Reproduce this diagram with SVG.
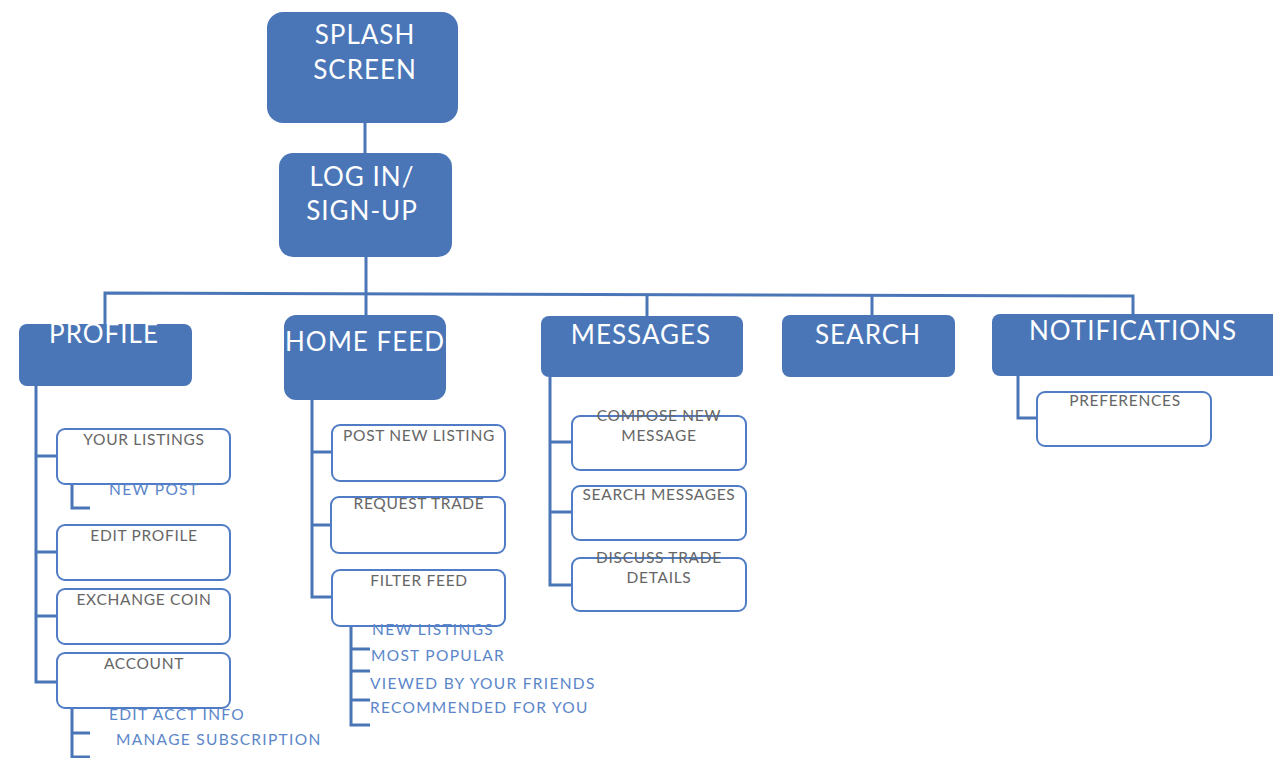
<svg xmlns="http://www.w3.org/2000/svg" width="1273" height="758" viewBox="0 0 1273 758">
<style>
.main{fill:#4a76b8;}
.sub{fill:#fff;stroke:#4f7cc4;stroke-width:2;}
.wt{fill:#fff;font-family:Lato,"Liberation Sans",sans-serif;font-size:26px;letter-spacing:1px;text-anchor:middle;}
.gt{fill:#666;font-family:Lato,"Liberation Sans",sans-serif;font-size:15.5px;letter-spacing:0.7px;text-anchor:middle;}
.bt{fill:#5b86c9;font-family:Lato,"Liberation Sans",sans-serif;font-size:15.5px;letter-spacing:1.3px;}
.ln{fill:none;stroke:#4a76b8;stroke-width:3;}
</style>
<rect width="1273" height="758" fill="#fff"/>
<g id="connectors">
<path class="ln" d="M365 123V153"/>
<path class="ln" d="M366 257V294"/>
<path class="ln" d="M105 324V293L1133 296V314"/>
<path class="ln" d="M366 294V315"/>
<path class="ln" d="M647 295V316"/>
<path class="ln" d="M872 295V315"/>
<path class="ln" d="M36 386V682H57M36 456H57M36 552H57M36 616H57"/>
<path class="ln" d="M72 484V508H90"/>
<path class="ln" d="M72 708V757H90M72 733H90"/>
<path class="ln" d="M312 400V597H332M312 452H332M312 525H332"/>
<path class="ln" d="M351 626V725H370M351 649H370M351 671H370M351 700H370"/>
<path class="ln" d="M550 377V585H572M550 442H572M550 512H572"/>
<path class="ln" d="M1018 376V418H1037"/>
</g>
<g id="splash"><rect class="main" x="267" y="12" width="191" height="111" rx="16"/><text class="wt" x="365" y="44">SPLASH</text><text class="wt" x="365" y="79">SCREEN</text></g>
<g id="login"><rect class="main" x="279" y="153" width="173" height="104" rx="14"/><text class="wt" x="362" y="186">LOG IN/</text><text class="wt" x="362" y="220">SIGN-UP</text></g>
<g id="profile"><rect class="main" x="19" y="324" width="173" height="62" rx="8"/><text class="wt" x="104" y="343">PROFILE</text></g>
<g id="homefeed"><rect class="main" x="284" y="315" width="162" height="85" rx="12"/><text class="wt" x="365" y="351">HOME FEED</text></g>
<g id="messages"><rect class="main" x="541" y="316" width="202" height="61" rx="8"/><text class="wt" x="641" y="344">MESSAGES</text></g>
<g id="search"><rect class="main" x="782" y="315" width="173" height="62" rx="8"/><text class="wt" x="868" y="344">SEARCH</text></g>
<g id="notifications"><rect class="main" x="992" y="314" width="290" height="62" rx="8"/><text class="wt" x="1133" y="340">NOTIFICATIONS</text></g>
<g id="yourlistings"><rect class="sub" x="57" y="429" width="173" height="55" rx="8"/><text class="gt" x="144" y="445">YOUR LISTINGS</text></g>
<g id="newpost"><text class="bt" x="109" y="495">NEW POST</text></g>
<g id="editprofile"><rect class="sub" x="57" y="525" width="173" height="55" rx="8"/><text class="gt" x="144" y="541">EDIT PROFILE</text></g>
<g id="exchangecoin"><rect class="sub" x="57" y="589" width="173" height="55" rx="8"/><text class="gt" x="144" y="605">EXCHANGE COIN</text></g>
<g id="account"><rect class="sub" x="57" y="653" width="173" height="55" rx="8"/><text class="gt" x="144" y="669">ACCOUNT</text></g>
<g id="editacct"><text class="bt" x="109" y="720">EDIT ACCT INFO</text></g>
<g id="managesub"><text class="bt" x="116" y="745">MANAGE SUBSCRIPTION</text></g>
<g id="postnew"><rect class="sub" x="332" y="425" width="173" height="56" rx="8"/><text class="gt" x="419" y="441">POST NEW LISTING</text></g>
<g id="requesttrade"><rect class="sub" x="331" y="497" width="174" height="56" rx="8"/><text class="gt" x="419" y="509">REQUEST TRADE</text></g>
<g id="filterfeed"><rect class="sub" x="332" y="570" width="173" height="56" rx="8"/><text class="gt" x="419" y="586">FILTER FEED</text></g>
<g id="newlistings"><text class="bt" x="372" y="635">NEW LISTINGS</text></g>
<g id="mostpopular"><text class="bt" x="371" y="661">MOST POPULAR</text></g>
<g id="viewed"><text class="bt" x="370" y="689">VIEWED BY YOUR FRIENDS</text></g>
<g id="recommended"><text class="bt" x="370" y="713">RECOMMENDED FOR YOU</text></g>
<g id="compose"><rect class="sub" x="572" y="416" width="174" height="54" rx="8"/><text class="gt" x="659" y="421">COMPOSE NEW</text><text class="gt" x="659" y="441">MESSAGE</text></g>
<g id="searchmsg"><rect class="sub" x="572" y="486" width="174" height="54" rx="8"/><text class="gt" x="659" y="500">SEARCH MESSAGES</text></g>
<g id="discuss"><rect class="sub" x="572" y="558" width="174" height="53" rx="8"/><text class="gt" x="659" y="563">DISCUSS TRADE</text><text class="gt" x="659" y="583">DETAILS</text></g>
<g id="preferences"><rect class="sub" x="1037" y="392" width="174" height="54" rx="8"/><text class="gt" x="1125" y="406">PREFERENCES</text></g>
</svg>
